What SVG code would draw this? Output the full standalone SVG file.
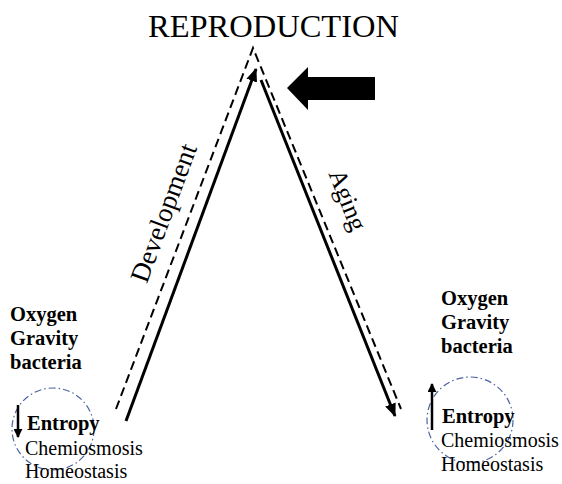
<svg xmlns="http://www.w3.org/2000/svg" width="562" height="484" viewBox="0 0 562 484">
<style>
.t{font-family:"Liberation Serif","Times New Roman",serif;fill:#000}
.b{font-weight:bold;font-size:20.5px}
.r{font-size:20px}
.solid{stroke:#000;stroke-width:3;fill:none}
.dash{stroke:#000;stroke-width:2;fill:none;stroke-dasharray:9 5}
.circ{stroke:#4a64a0;stroke-width:1.2;fill:none;stroke-dasharray:7 3 1.5 3}
.small{stroke:#000;stroke-width:2.5;fill:none}
</style>
<defs>
<marker id="ah" viewBox="0 0 12 10" refX="11" refY="5" markerWidth="4.5" markerHeight="3.8" orient="auto" markerUnits="strokeWidth">
<path d="M0,0 L12,5 L0,10 z" fill="#000"/>
</marker>
<marker id="ah2" viewBox="0 0 10 10" refX="9" refY="5" markerWidth="3.6" markerHeight="3.6" orient="auto" markerUnits="strokeWidth">
<path d="M0,0 L10,5 L0,10 z" fill="#000"/>
</marker>
</defs>
<g id="title"><text class="t" x="148" y="37" font-size="32.5">REPRODUCTION</text></g>
<g id="connectors">
<polyline class="dash" points="116,409 253,48 401,409"/>
<line class="solid" x1="126" y1="421" x2="256" y2="69" marker-end="url(#ah)"/>
<line class="solid" x1="261" y1="80" x2="395" y2="416" marker-end="url(#ah)"/>
<path id="bigarrow" d="M287,88 L308,67 L308,77 L375,77 L375,100 L308,100 L308,110 Z" fill="#000"/>
</g>
<g id="development"><text class="t" font-size="27" text-anchor="middle" transform="translate(172,216) rotate(-69.7)">Development</text></g>
<g id="aging"><text class="t" font-size="25.5" text-anchor="middle" transform="translate(340,203) rotate(68.2)">Aging</text></g>
<g id="left-node">
<text class="t b" x="10" y="321">Oxygen</text>
<text class="t b" x="10" y="345">Gravity</text>
<text class="t b" x="10" y="369">bacteria</text>
<circle class="circ" cx="53" cy="429" r="41"/>
<line class="small" x1="18" y1="405" x2="18" y2="437" marker-end="url(#ah2)"/>
<text class="t b" x="27" y="430">Entropy</text>
<text class="t r" x="25" y="455">Chemiosmosis</text>
<text class="t r" x="25" y="478">Homeostasis</text>
</g>
<g id="right-node">
<text class="t b" x="441" y="305">Oxygen</text>
<text class="t b" x="441" y="329">Gravity</text>
<text class="t b" x="441" y="353">bacteria</text>
<circle class="circ" cx="470" cy="420" r="43"/>
<line class="small" x1="432" y1="430" x2="432" y2="384" marker-end="url(#ah2)"/>
<text class="t b" x="442" y="423">Entropy</text>
<text class="t r" x="441" y="447">Chemiosmosis</text>
<text class="t r" x="441" y="471">Homeostasis</text>
</g>
</svg>
